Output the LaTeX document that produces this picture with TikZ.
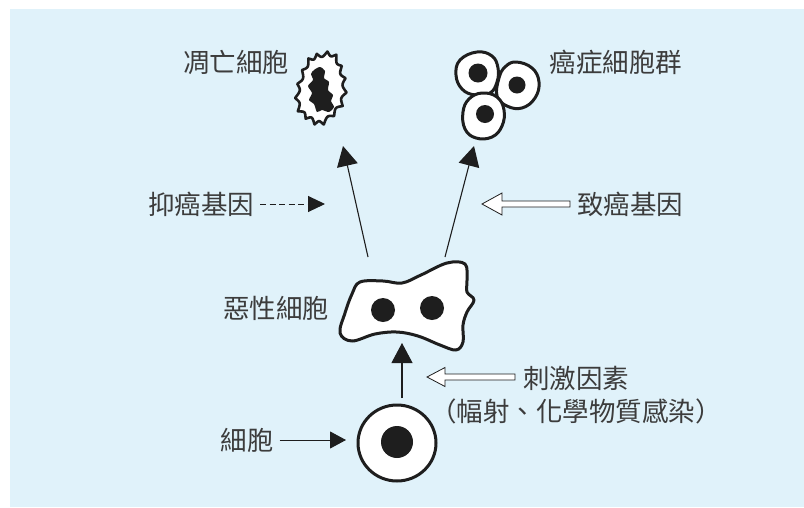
\documentclass[tikz,border=0pt]{standalone}
\usepackage{fontspec}
\newfontfamily\cjk{Noto Sans CJK TC}
\usetikzlibrary{arrows.meta}
\definecolor{bgblue}{RGB}{224,242,250}
\definecolor{txt}{RGB}{60,60,60}
\definecolor{ink}{RGB}{30,30,30}

\tikzset{
  lbl/.style={font=\cjk\fontsize{26.5}{28}\selectfont, text=txt, inner sep=0pt},
  cellwall/.style={draw=ink, line width=3pt, fill=white, line join=round},
  thinarrow/.style={draw=ink, line width=1.1pt, -{Triangle[length=20pt,width=21pt]}},
  pointer/.style={draw=ink, line width=1pt, -{Triangle[length=16pt,width=17pt]}},
  hollowarrow/.style={draw=ink, line width=0.8pt, fill=white, line join=miter},
}

\begin{document}
\begin{tikzpicture}[x=1pt,y=-1pt]
\useasboundingbox (0,0) rectangle (804,507);
\fill[bgblue] (10,9) rectangle (804,507);

% ---- labels ----
\node[lbl] (dead)    at (236,62)  {凋亡細胞};
\node[lbl] (cluster) at (616,62)  {癌症細胞群};
\node[lbl] (inhib)   at (201,204) {抑癌基因};
\node[lbl] (onco)    at (630,204) {致癌基因};
\node[lbl] (malig)   at (276,308) {惡性細胞};
\node[lbl] (stim)    at (576,378) {刺激因素};
\node[lbl] (stim2)   at (576,411) {（幅射、化學物質感染）};
\node[lbl] (normal)  at (247,440) {細胞};

% ---- apoptotic cell ----
\begin{scope}[shift={(321,88)}, rotate=-10]
  \draw[cellwall, line width=2.6pt]
    plot[domain=0:360, samples=289]
      ({25*(1-0.16*abs(sin(8*\x)))*(1+0.06*sin(3*\x+40))*cos(\x)},
       {37*(1-0.12*abs(sin(8*\x)))*(1+0.04*cos(5*\x))*sin(\x)}) -- cycle;
\end{scope}
\fill[ink] plot[smooth cycle, tension=0.45] coordinates {
  (314,70) (320,67) (325,71) (324,78) (329,82) (328,90) (333,95)
  (331,101) (334,107) (329,112) (322,110) (317,112) (314,104)
  (309,100) (312,93) (308,86) (313,80) (311,74)};

% ---- cancer cell cluster ----
\draw[cellwall] plot[smooth cycle, tension=0.7] coordinates {
  (477,52) (492,56) (498,68) (497,82) (490,93) (475,95) (462,89) (456,75) (460,60)};
\fill[ink] (478,73) circle (9.5);
\draw[cellwall] plot[smooth cycle, tension=0.7] coordinates {
  (516,62) (532,68) (539,82) (535,98) (522,108) (507,106) (497,96) (499,78) (505,67)};
\fill[ink] (517,85) circle (8.5);
\draw[cellwall] plot[smooth cycle, tension=0.7] coordinates {
  (482,93) (497,97) (504,110) (502,126) (492,137) (476,138) (465,129) (463,112) (469,99)};
\fill[ink] (485,114) circle (9);

% ---- malignant cell ----
\draw[cellwall] plot[smooth cycle, tension=0.6] coordinates {
  (360,282) (383,281) (402,283) (421,275) (447,263) (465,264)
  (467,280) (467,292) (474,300) (467,312) (463,325) (463,342)
  (456,350) (440,345) (418,336) (397,332) (375,334) (352,341)
  (340,333) (345,313) (352,294)};
\fill[ink] (383,310) circle (12);
\fill[ink] (432,308) circle (12);

% ---- normal cell ----
\draw[cellwall] (397,443) ellipse (39 and 38);
\fill[ink] (397,442) circle (16);

% ---- arrows ----
\coordinate (upL0) at (368,257);
\coordinate (upL1) at (343,146);
\coordinate (upR0) at (445,257);
\coordinate (upR1) at (474,146);
\coordinate (upC0) at (402,398);
\coordinate (upC1) at (402,343);
\draw[thinarrow] (upL0) -- (upL1);
\draw[thinarrow] (upR0) -- (upR1);
\draw[thinarrow] (upC0) -- (upC1);

\coordinate (inhibTip) at (325,204);
\draw[draw=ink, line width=1pt, dash pattern=on 6pt off 3.5pt,
      -{Triangle[length=17pt,width=16pt]}]
  ([xshift=6pt]inhib.east) -- (inhibTip);

\coordinate (normalTip) at (346,440);
\draw[pointer] ([xshift=6pt]normal.east) -- (normalTip);

% hollow arrows pointing left
\coordinate (oncoTip) at (482,204);
\draw[hollowarrow] (oncoTip) -- ++(20,-11) -- ++(0,8) -- ++(68,0) -- ++(0,6)
  -- ++(-68,0) -- ++(0,8) -- cycle;
\coordinate (stimTip) at (427,377);
\draw[hollowarrow] (stimTip) -- ++(18,-9.5) -- ++(0,6.5) -- ++(70,0) -- ++(0,6)
  -- ++(-70,0) -- ++(0,6.5) -- cycle;
\end{tikzpicture}
\end{document}
